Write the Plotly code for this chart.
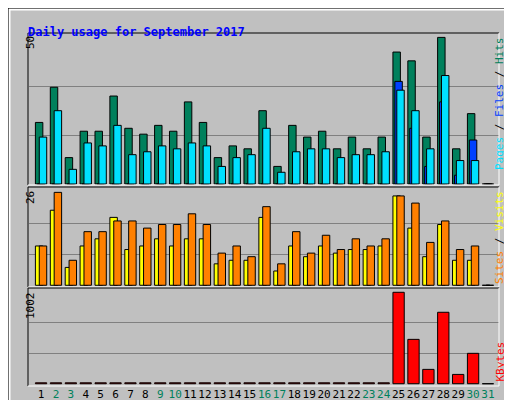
import plotly.graph_objects as go

days = list(range(1, 32))
hits = [21, 33, 9, 18, 18, 30, 19, 17, 20, 18, 28, 21, 9, 13, 12, 25, 6, 20, 16, 18, 12, 16, 12, 16, 45, 42, 16, 50, 12, 24, 0]
files = [16, 25, 5, 14, 13, 20, 10, 11, 13, 12, 14, 13, 6, 9, 10, 19, 4, 11, 12, 12, 9, 10, 10, 11, 32, 25, 12, 37, 8, 8, 0]
pages = [0] * 24 + [35, 19, 6, 28, 3, 15, 0]
sites = [11, 21, 5, 11, 13, 19, 10, 11, 13, 11, 13, 13, 6, 7, 7, 19, 4, 11, 8, 11, 9, 10, 10, 11, 25, 16, 8, 17, 7, 7, 0]
visits = [11, 26, 7, 15, 15, 18, 18, 16, 17, 17, 20, 17, 9, 11, 8, 22, 6, 15, 9, 14, 10, 13, 11, 13, 25, 23, 12, 18, 10, 11, 0]
kbytes = [10] * 24 + [1002, 486, 157, 783, 102, 333, 0]
weekend = [2, 3, 9, 10, 16, 17, 23, 24, 30, 31]

BG = "#C0C0C0"
W, H = 512, 400
L, R = 20.7, 490.7


def px(x):
    return x / W


def py(y):
    return (H - y) / H


def bars(vals, color, offset, yaxis, width=0.5):
    return go.Bar(x=days, y=vals, width=width, offset=offset, yaxis=yaxis, xaxis="x",
                  marker=dict(color=color, line=dict(color="black", width=1)),
                  showlegend=False, hoverinfo="y")


fig = go.Figure()
fig.add_trace(bars(hits, "#00805C", -0.38, "y"))
fig.add_trace(bars(pages, "#0040FF", -0.25, "y"))
fig.add_trace(bars(files, "#00E0FF", -0.12, "y"))
fig.add_trace(bars(sites, "#FFFF00", -0.38, "y2"))
fig.add_trace(bars(visits, "#FF8000", -0.12, "y2"))
fig.add_trace(bars(kbytes, "#FF0000", -0.38, "y3", width=0.76))

ticktext = [f"<span style='color:#00805C'>{d}</span>" if d in weekend else str(d) for d in days]
grid = dict(showgrid=True, gridcolor="#808080", gridwidth=1, showticklabels=False,
            zeroline=False, showline=False, ticks="")
fig.update_layout(
    width=W, height=H, paper_bgcolor=BG, plot_bgcolor=BG, barmode="overlay",
    margin=dict(l=0, r=0, t=0, b=0),
    font=dict(family="DejaVu Sans Mono", size=11, color="black"),
    xaxis=dict(domain=[px(L), px(R)], range=[0.17, 31.72], tickvals=days, ticktext=ticktext,
               showgrid=False, zeroline=False, ticks="", anchor="y3", tickangle=0,
               tickfont=dict(size=11), automargin=False),
    yaxis=dict(domain=[py(177), py(25)], range=[-0.34, 51.5], tickvals=[50 / 3, 100 / 3], **grid),
    yaxis2=dict(domain=[py(279), py(179)], range=[-0.48, 27.5], tickvals=[26 / 3, 52 / 3], **grid),
    yaxis3=dict(domain=[py(378), py(280)], range=[-25, 1049], tickvals=[334, 668], **grid),
)

shapes = []
# panel borders
for top, bot in [(25, 177), (179, 279), (280, 378)]:
    shapes.append(dict(type="line", x0=px(20), x1=px(491), y0=py(top), y1=py(top), line=dict(color="black", width=1)))
    shapes.append(dict(type="line", x0=px(20), x1=px(20), y0=py(top), y1=py(bot), line=dict(color="black", width=1)))
    shapes.append(dict(type="line", x0=px(20), x1=px(491), y0=py(bot), y1=py(bot), line=dict(color="white", width=1)))
    shapes.append(dict(type="line", x0=px(491), x1=px(491), y0=py(top), y1=py(bot), line=dict(color="white", width=1)))
# outer 3D frame
shapes.append(dict(type="line", x0=px(1), x1=px(510), y0=py(1.5), y1=py(1.5), line=dict(color="white", width=2)))
shapes.append(dict(type="line", x0=px(1.5), x1=px(1.5), y0=py(1), y1=py(397), line=dict(color="white", width=2)))
shapes.append(dict(type="line", x0=px(1), x1=px(511), y0=py(398), y1=py(398), line=dict(color="#808080", width=3)))
shapes.append(dict(type="line", x0=px(510), x1=px(510), y0=py(1), y1=py(399), line=dict(color="#808080", width=3)))
shapes.append(dict(type="rect", x0=0, x1=1, y0=0, y1=1, line=dict(color="black", width=1)))
for s in shapes:
    s.update(xref="paper", yref="paper")
fig.update_layout(shapes=shapes)

ann = [
    dict(x=px(18), y=py(15), text="<b>Daily usage for September 2017</b>", xanchor="left",
         font=dict(color="#0000FF", size=12)),
    dict(x=px(14), y=py(26), text="50", textangle=-90, yanchor="top"),
    dict(x=px(14), y=py(181), text="26", textangle=-90, yanchor="top"),
    dict(x=px(14), y=py(282), text="1002", textangle=-90, yanchor="top"),
    dict(x=px(500), y=py(27), yanchor="top", textangle=-90,
         text="<span style='color:#00E0FF'>Pages</span> / <span style='color:#0040FF'>Files</span> / <span style='color:#00805C'>Hits</span>"),
    dict(x=px(500), y=py(181), yanchor="top", textangle=-90,
         text="<span style='color:#FF8000'>Sites</span> / <span style='color:#FFFF00'>Visits</span>"),
    dict(x=px(500), y=py(376), yanchor="bottom", textangle=-90,
         text="<span style='color:#FF0000'>KBytes</span>"),
]
for a in ann:
    a.update(xref="paper", yref="paper", showarrow=False)
fig.update_layout(annotations=ann)

fig.write_html("out.html")
